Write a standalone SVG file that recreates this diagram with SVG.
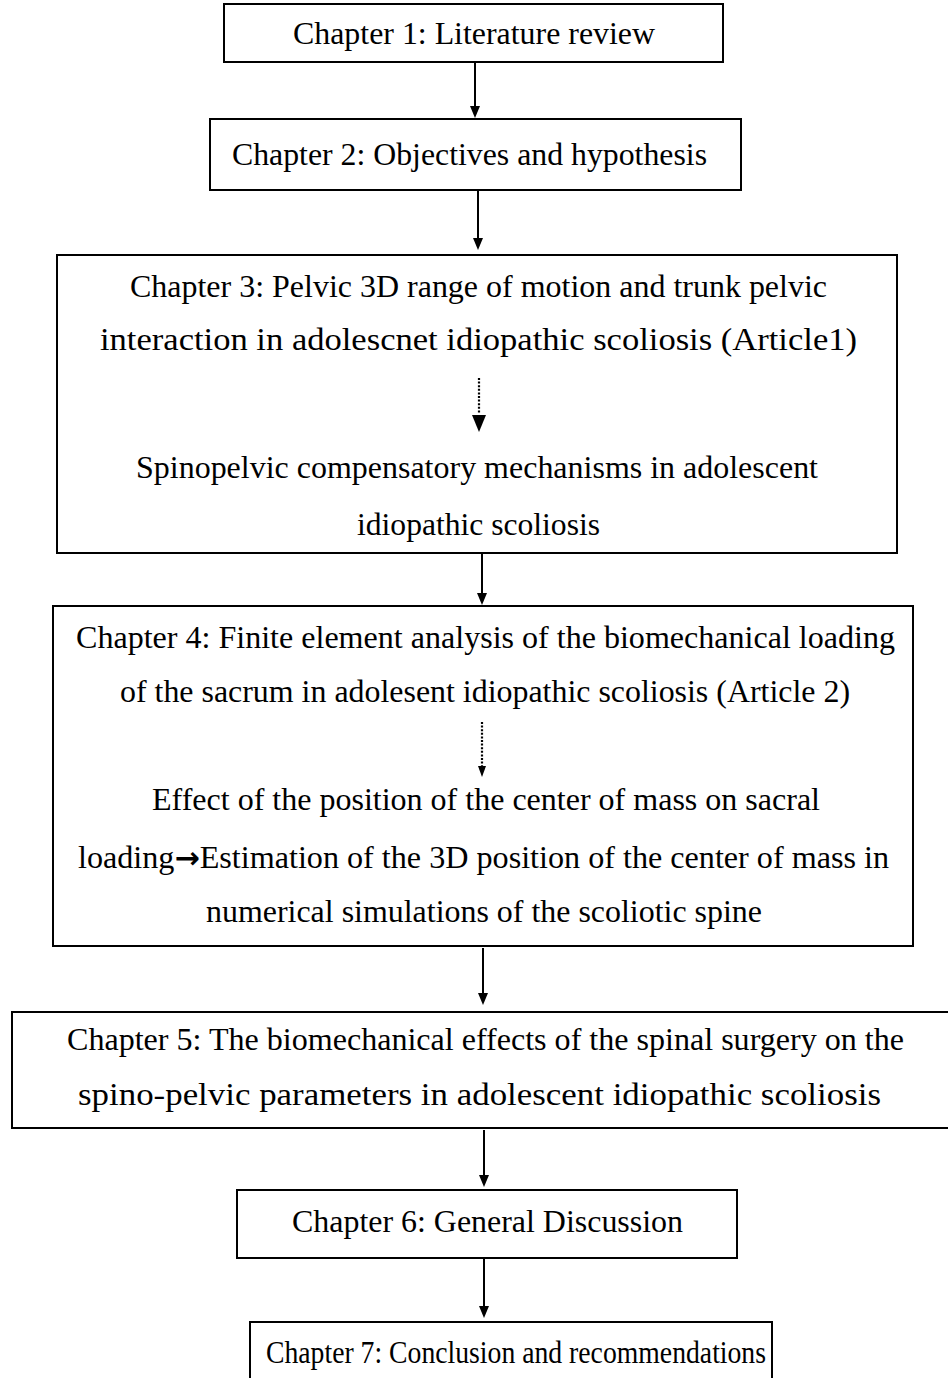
<svg xmlns="http://www.w3.org/2000/svg" width="948" height="1378" viewBox="0 0 948 1378">
<style>
.box{fill:#fff;stroke:#000;stroke-width:2}
.t{font-family:"Liberation Serif","Times New Roman",serif;font-size:32px;fill:#000}
.ar{font-family:"DejaVu Sans",sans-serif;font-size:30px;font-weight:bold}
.ln{stroke:#000;stroke-width:2}
.dot{stroke:#000;stroke-width:2.2;stroke-dasharray:2 1.6}
.head{fill:#000}
</style>
<rect width="948" height="1378" fill="#fff"/>
<g id="ch1"><rect class="box" x="224" y="4" width="499" height="58"/>
<text class="t" x="293" y="44" textLength="362" lengthAdjust="spacingAndGlyphs">Chapter 1: Literature review</text></g>
<g id="ch2"><rect class="box" x="210" y="119" width="531" height="71"/>
<text class="t" x="232" y="165" textLength="475" lengthAdjust="spacingAndGlyphs">Chapter 2: Objectives and hypothesis</text></g>
<g id="ch3"><rect class="box" x="57" y="255" width="840" height="298"/>
<text class="t" x="130" y="297" textLength="697" lengthAdjust="spacingAndGlyphs">Chapter 3: Pelvic 3D range of motion and trunk pelvic</text>
<text class="t" x="100" y="350" textLength="757" lengthAdjust="spacingAndGlyphs">interaction in adolescnet idiopathic scoliosis (Article1)</text>
<text class="t" x="136" y="478" textLength="682" lengthAdjust="spacingAndGlyphs">Spinopelvic compensatory mechanisms in adolescent</text>
<text class="t" x="357" y="535" textLength="243" lengthAdjust="spacingAndGlyphs">idiopathic scoliosis</text></g>
<g id="ch4"><rect class="box" x="53" y="606" width="860" height="340"/>
<text class="t" x="76" y="648" textLength="819" lengthAdjust="spacingAndGlyphs">Chapter 4: Finite element analysis of the biomechanical loading</text>
<text class="t" x="120" y="702" textLength="730" lengthAdjust="spacingAndGlyphs">of the sacrum in adolesent idiopathic scoliosis (Article 2)</text>
<text class="t" x="152" y="810" textLength="668" lengthAdjust="spacingAndGlyphs">Effect of the position of the center of mass on sacral</text>
<text class="t" x="78" y="868" textLength="811" lengthAdjust="spacingAndGlyphs">loading<tspan class="ar">→</tspan>Estimation of the 3D position of the center of mass in</text>
<text class="t" x="206" y="922" textLength="556" lengthAdjust="spacingAndGlyphs">numerical simulations of the scoliotic spine</text></g>
<g id="ch5"><rect class="box" x="12" y="1012" width="950" height="116"/>
<text class="t" x="67" y="1050" textLength="837" lengthAdjust="spacingAndGlyphs">Chapter 5: The biomechanical effects of the spinal surgery on the</text>
<text class="t" x="78" y="1105" textLength="803" lengthAdjust="spacingAndGlyphs">spino-pelvic parameters in adolescent idiopathic scoliosis</text></g>
<g id="ch6"><rect class="box" x="237" y="1190" width="500" height="68"/>
<text class="t" x="292" y="1232" textLength="391" lengthAdjust="spacingAndGlyphs">Chapter 6: General Discussion</text></g>
<g id="ch7"><rect class="box" x="250" y="1322" width="522" height="70"/>
<text class="t" x="266" y="1363" textLength="500" lengthAdjust="spacingAndGlyphs">Chapter 7: Conclusion and recommendations</text></g>
<g id="connectors">
<line class="ln" x1="475" y1="62" x2="475" y2="108"/><polygon class="head" points="470,106 480,106 475,118"/>
<line class="ln" x1="478" y1="190" x2="478" y2="240"/><polygon class="head" points="473,238 483,238 478,250"/>
<line class="dot" x1="479" y1="378" x2="479" y2="414"/><polygon class="head" points="472,415 486,415 479,432"/>
<line class="ln" x1="482" y1="553" x2="482" y2="595"/><polygon class="head" points="477,593 487,593 482,605"/>
<line class="dot" x1="482" y1="722" x2="482" y2="766"/><polygon class="head" points="478,766 486,766 482,777"/>
<line class="ln" x1="483" y1="948" x2="483" y2="995"/><polygon class="head" points="478,993 488,993 483,1005"/>
<line class="ln" x1="484" y1="1130" x2="484" y2="1177"/><polygon class="head" points="479,1175 489,1175 484,1187"/>
<line class="ln" x1="484" y1="1259" x2="484" y2="1308"/><polygon class="head" points="479,1306 489,1306 484,1318"/>
</g>
</svg>
